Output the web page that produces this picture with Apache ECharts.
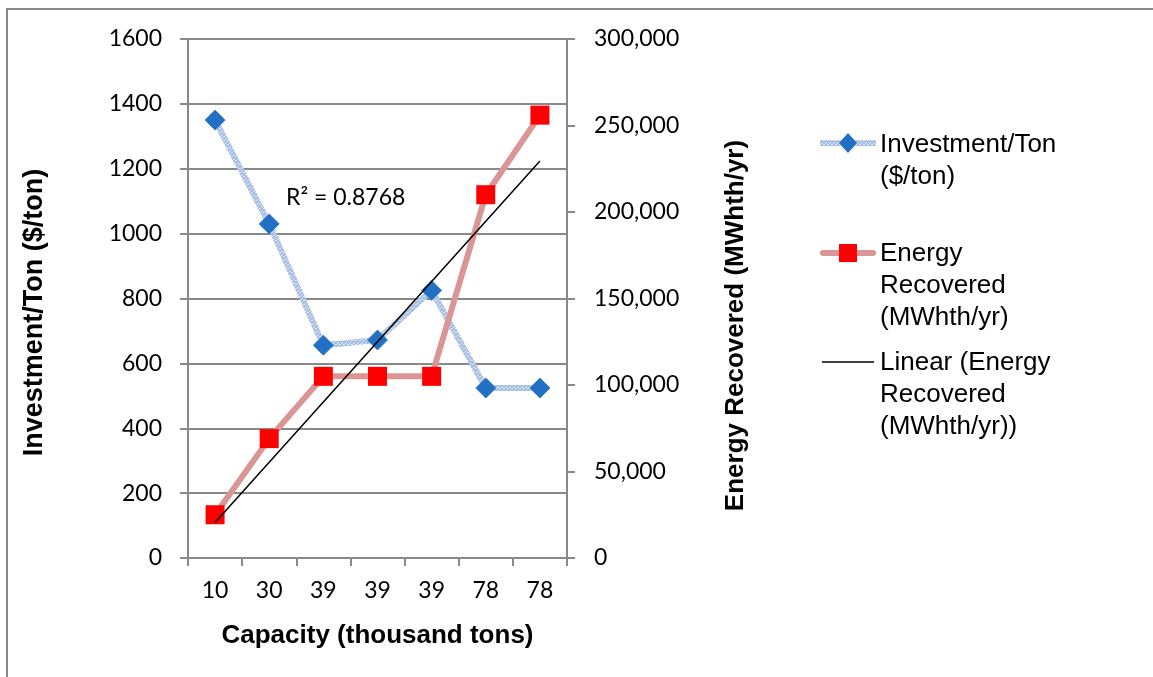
<!DOCTYPE html>
<html>
<head>
<meta charset="utf-8">
<title>Investment and Energy Recovered by Capacity</title>
<script src="https://cdn.jsdelivr.net/npm/echarts@6/dist/echarts.min.js"></script>
<style>
  html, body { margin: 0; padding: 0; background: #ffffff; }
  #chart { width: 1153px; height: 677px; }
</style>
</head>
<body>
<div id="chart"></div>
<script>
// Plant capacity (thousand tons) for each project
const categories = ['10', '30', '39', '39', '39', '78', '78'];
// Investment per ton of capacity ($/ton)
const investmentPerTon = [1350, 1030, 656, 672, 825, 524, 524];
// Energy recovered (MWhth/yr)
const energyRecovered = [25000, 69000, 105000, 105000, 105000, 210000, 256000];

const leftTicks = { min: 0, max: 1600, interval: 200 };
const rightTicks = { min: 0, max: 300000, interval: 50000 };

// Least-squares linear trend of energy recovered against category position
function linearTrend(values) {
  const n = values.length;
  const xs = values.map((_, i) => i + 1);
  const mx = xs.reduce((a, b) => a + b, 0) / n;
  const my = values.reduce((a, b) => a + b, 0) / n;
  let sxy = 0, sxx = 0, syy = 0;
  for (let i = 0; i < n; i++) {
    sxy += (xs[i] - mx) * (values[i] - my);
    sxx += (xs[i] - mx) * (xs[i] - mx);
    syy += (values[i] - my) * (values[i] - my);
  }
  const slope = sxy / sxx;
  const intercept = my - slope * mx;
  const r2 = (sxy * sxy) / (sxx * syy);
  return { points: xs.map(x => intercept + slope * x), r2 };
}
const trend = linearTrend(energyRecovered);

// Speckled light-blue texture for the investment line
function speckleTexture() {
  const c = document.createElement('canvas');
  c.width = 4; c.height = 4;
  const ctx = c.getContext('2d');
  ctx.fillStyle = '#a7bfe2';
  ctx.fillRect(0, 0, 4, 4);
  ctx.fillStyle = '#dfe8f5';
  ctx.fillRect(0, 0, 1, 1);
  ctx.fillRect(2, 2, 1, 1);
  ctx.fillRect(3, 0, 1, 1);
  ctx.fillRect(1, 3, 1, 1);
  return { image: c, repeat: 'repeat' };
}

const gray = '#898989';
const tickFont = 'Lato, "Open Sans", sans-serif';
const titleFont = '"Liberation Sans", Arial, sans-serif';
const blueLine = speckleTexture();
const blueMarker = '#2270c4';
const redLine = '#d99694';
const redMarker = '#ff0000';

const chart = echarts.init(document.getElementById('chart'), null, { renderer: 'canvas' });

const legendX = 820;
const legendTextX = 880;
const legendFont = 'normal 26px "Liberation Sans", Arial, sans-serif';

chart.setOption({
  animation: false,
  backgroundColor: '#ffffff',
  grid: { left: 188, right: 586, top: 39, bottom: 119, containLabel: false },
  xAxis: {
    type: 'category',
    data: categories,
    boundaryGap: true,
    name: 'Capacity (thousand tons)',
    nameLocation: 'middle',
    nameGap: 65,
    nameTextStyle: { fontFamily: titleFont, fontWeight: 'bold', fontSize: 26, color: '#000' },
    axisLine: { lineStyle: { color: gray, width: 2 } },
    axisTick: { show: true, alignWithLabel: false, length: 8, lineStyle: { color: gray, width: 2 } },
    axisLabel: { margin: 21, fontFamily: tickFont, fontSize: 23, color: '#000', interval: 0 },
    splitLine: { show: false }
  },
  yAxis: [
    {
      type: 'value',
      position: 'left',
      min: leftTicks.min, max: leftTicks.max, interval: leftTicks.interval,
      name: 'Investment/Ton ($/ton)',
      nameLocation: 'middle',
      nameRotate: 90,
      nameGap: 140,
      nameTextStyle: { fontFamily: titleFont, fontWeight: 'bold', fontSize: 27, color: '#000', padding: [0, 28, 0, 0] },
      axisLine: { show: true, lineStyle: { color: gray, width: 2 } },
      axisTick: { show: true, length: 8, lineStyle: { color: gray, width: 2 } },
      axisLabel: { margin: 26, fontFamily: tickFont, fontSize: 23, color: '#000', formatter: v => String(v) },
      splitLine: { show: true, lineStyle: { color: gray, width: 2 } }
    },
    {
      type: 'value',
      position: 'right',
      min: rightTicks.min, max: rightTicks.max, interval: rightTicks.interval,
      name: 'Energy Recovered (MWhth/yr)',
      nameLocation: 'middle',
      nameRotate: 90,
      nameGap: 156,
      nameTextStyle: { fontFamily: titleFont, fontWeight: 'bold', fontSize: 26, color: '#000', padding: [0, 54, 0, 0] },
      axisLine: { show: true, lineStyle: { color: gray, width: 2 } },
      axisTick: { show: true, length: 8, lineStyle: { color: gray, width: 2 } },
      axisLabel: {
        margin: 27, fontFamily: tickFont, fontSize: 23, color: '#000',
        formatter: v => v.toLocaleString('en-US')
      },
      splitLine: { show: false }
    }
  ],
  series: [
    {
      name: 'Investment/Ton ($/ton)',
      type: 'line',
      yAxisIndex: 0,
      data: investmentPerTon,
      symbol: 'diamond',
      symbolSize: 20,
      lineStyle: { color: blueLine, width: 6 },
      itemStyle: { color: blueMarker, borderColor: '#3b7fcb', borderWidth: 1 },
      z: 3
    },
    {
      name: 'Energy Recovered (MWhth/yr)',
      type: 'line',
      yAxisIndex: 1,
      data: energyRecovered,
      symbol: 'rect',
      symbolSize: 19,
      lineStyle: { color: redLine, width: 6 },
      itemStyle: { color: redMarker },
      z: 4
    },
    {
      name: 'Linear (Energy Recovered (MWhth/yr))',
      type: 'line',
      yAxisIndex: 1,
      data: trend.points,
      symbol: 'none',
      lineStyle: { color: '#000000', width: 1.5 },
      z: 5
    }
  ],
  graphic: [
    // chart area frame
    {
      type: 'rect', silent: true, z: -1,
      shape: { x: 7, y: 9, width: 1170, height: 690 },
      style: { fill: 'none', stroke: gray, lineWidth: 2 }
    },
    // trendline R² annotation
    {
      type: 'text', x: 286, y: 186, z: 10,
      style: { text: 'R² = ' + trend.r2.toFixed(4), font: 'normal 23px Lato, "Open Sans", sans-serif', fill: '#000' }
    },
    // legend: investment per ton
    { type: 'line', shape: { x1: legendX, y1: 143, x2: legendX + 56, y2: 143 }, style: { stroke: blueLine, lineWidth: 6 } },
    { type: 'polygon', shape: { points: [[848, 133], [857, 143], [848, 153], [839, 143]] }, style: { fill: blueMarker } },
    { type: 'text', x: legendTextX, y: 129, style: { text: 'Investment/Ton\n($/ton)', font: legendFont, lineHeight: 32, fill: '#000' } },
    // legend: energy recovered
    { type: 'line', shape: { x1: legendX + 3, y1: 253, x2: legendX + 53, y2: 253 }, style: { stroke: redLine, lineWidth: 6, lineCap: 'round' } },
    { type: 'rect', shape: { x: 839, y: 244, width: 18, height: 18 }, style: { fill: redMarker } },
    { type: 'text', x: legendTextX, y: 238, style: { text: 'Energy\nRecovered\n(MWhth/yr)', font: legendFont, lineHeight: 32, fill: '#000' } },
    // legend: linear trend
    { type: 'line', shape: { x1: legendX + 2, y1: 362, x2: legendX + 54, y2: 362 }, style: { stroke: '#000', lineWidth: 1.5 } },
    { type: 'text', x: legendTextX, y: 347, style: { text: 'Linear (Energy\nRecovered\n(MWhth/yr))', font: legendFont, lineHeight: 32, fill: '#000' } }
  ]
});
</script>
</body>
</html>
